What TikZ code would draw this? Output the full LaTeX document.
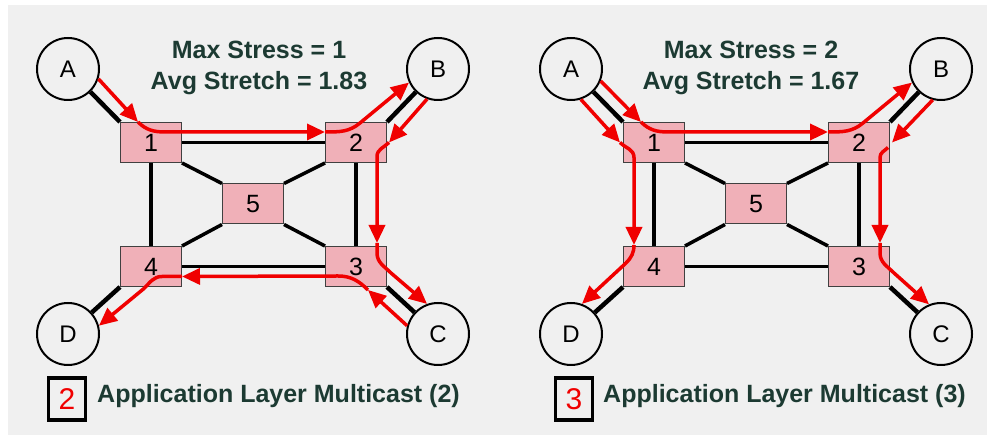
\documentclass[tikz,border=0pt]{standalone}
\usepackage{fontspec}
\setmainfont{Liberation Sans}
\usepackage{tikz}
\usetikzlibrary{arrows.meta, calc}

\definecolor{panel}{RGB}{240,240,240}
\definecolor{routerpink}{RGB}{240,176,184}
\definecolor{capgreen}{RGB}{28,58,50}
\definecolor{treered}{RGB}{240,0,0}

\tikzset{
  host/.style={circle, draw=black, fill=panel, line width=2pt,
               minimum size=62pt, inner sep=0pt, font=\fontsize{24}{24}\selectfont},
  router/.style={rectangle, draw=black!75, fill=routerpink, line width=1pt,
                 minimum width=61pt, minimum height=40pt, inner sep=0pt,
                 font=\fontsize{25}{25}\selectfont},
  link/.style={line width=3.5pt},
  access/.style={line width=4.5pt},
  route/.style={treered, line width=3.5pt, -{Triangle[length=18pt,width=16pt]}},
  stats/.style={text=capgreen, font=\bfseries\fontsize{25}{31}\selectfont, align=center},
  keybox/.style={draw, line width=3.5pt, minimum width=37pt, minimum height=42pt,
                 inner sep=0pt, text=treered, font=\fontsize{30}{30}\selectfont},
  keytext/.style={text=capgreen, font=\bfseries\fontsize{25}{25}\selectfont,
                  inner sep=0pt, anchor=base west}
}

\begin{document}
\begin{tikzpicture}[x=1pt, y=1pt]
\useasboundingbox (0,0) rectangle (987,435);
\fill[white] (0,0) rectangle (987,435);
\fill[panel] (8,0) rectangle (987,430);

% same network in both panels
\foreach \p/\dx in {l/0, r/503}{
  \begin{scope}[xshift=\dx pt]
    \node[host] (\p A) at (68,366) {A};
    \node[host] (\p B) at (438,366) {B};
    \node[host] (\p C) at (438,101) {C};
    \node[host] (\p D) at (68,101) {D};

    \node[router] (\p 1) at (151,292.5) {1};
    \node[router] (\p 2) at (356,292.5) {2};
    \node[router] (\p 3) at (356,168.5) {3};
    \node[router] (\p 4) at (151,168.5) {4};
    \node[router] (\p 5) at (253,231) {5};

    \draw[access] (\p A) -- (\p 1.north west);
    \draw[access] (\p B) -- (\p 2.north east);
    \draw[access] (\p C) -- (\p 3.south east);
    \draw[access] (\p D) -- (\p 4.south west);

    \draw[link] (\p 1) -- (\p 2);
    \draw[link] (\p 4) -- (\p 3);
    \draw[link] (\p 1) -- (\p 4);
    \draw[link] (\p 2) -- (\p 3);
    \draw[link] (\p 1.south east) -- (\p 5.north west);
    \draw[link] (\p 2.south west) -- (\p 5.north east);
    \draw[link] (\p 4.north east) -- (\p 5.south west);
    \draw[link] (\p 3.north west) -- (\p 5.south east);
  \end{scope}
}

% left tree: A->2->B, B->3->C, C->4->D
\draw[route] (lA.-18) -- ([xshift=18pt]l1.north west);
\draw[route] ([xshift=18pt]l1.north west) to[out=-45,in=180] ([xshift=45pt,yshift=-10pt]l1.north west) -- ([yshift=-10pt]l2.north west);
\draw[route] ([yshift=-10pt]l2.north west) to[out=0,in=220] ++(35,9) -- (lB.205);

\draw[route] (lB.250) -- ([xshift=2pt]l2.east);
\draw[route] ([xshift=2pt]l2.east) to[out=225,in=90] ++(-12,-14) -- ([xshift=-10pt,yshift=3pt]l3.north east);
\draw[route] ([xshift=-10pt,yshift=3pt]l3.north east) -- ++(0,-10) to[out=-90,in=135] ++(14,-20) -- (lC.110);

\draw[route] (lC.165) -- ([xshift=-19pt,yshift=-3pt]l3.south east);
\draw[route] ([xshift=-19pt,yshift=-3pt]l3.south east) to[out=135,in=0] ++(-30,14) -- ([yshift=-10pt]l4.east);
\draw[route] ([yshift=-10pt]l4.east) -- ++(-20,0) to[out=180,in=45] ++(-18,-12) -- (lD.15);

% right tree: A->2->B, A->4->D, B->3->C
\draw[route] (rA.-22) -- ([xshift=18pt]r1.north west);
\draw[route] ([xshift=18pt]r1.north west) to[out=-45,in=180] ([xshift=45pt,yshift=-10pt]r1.north west) -- ([yshift=-10pt]r2.north west);
\draw[route] ([yshift=-10pt]r2.north west) to[out=0,in=220] ++(35,9) -- (rB.205);

\draw[route] (rA.-72) -- ([xshift=-3pt]r1.west);
\draw[route] ([xshift=-3pt]r1.west) to[out=-45,in=90] ++(14,-15) -- ([xshift=11pt,yshift=1pt]r4.north west);
\draw[route] ([xshift=11pt,yshift=1pt]r4.north west) to[out=-90,in=45] ++(-8,-18) -- (rD.70);

\draw[route] (rB.255) -- ([xshift=2pt]r2.east);
\draw[route] ([xshift=-2pt,yshift=-5pt]r2.east) to[out=225,in=90] ++(-8,-10) -- ([xshift=-10pt,yshift=3pt]r3.north east);
\draw[route] ([xshift=-10pt,yshift=3pt]r3.north east) -- ++(0,-10) to[out=-90,in=135] ++(14,-20) -- (rC.112);

% figures and captions
\node[stats] (lstats) at (259,367.5) {Max Stress = 1\\Avg Stretch = 1.83};
\node[stats] (rstats) at (751,367.5) {Max Stress = 2\\Avg Stretch = 1.67};

\node[keybox] (lkey) at (67,36) {2};
\node[keytext] (ltext) at (97,32) {Application Layer Multicast (2)};
\node[keybox] (rkey) at (574,36) {3};
\node[keytext] (rtext) at (603,32) {Application Layer Multicast (3)};
\end{tikzpicture}
\end{document}
